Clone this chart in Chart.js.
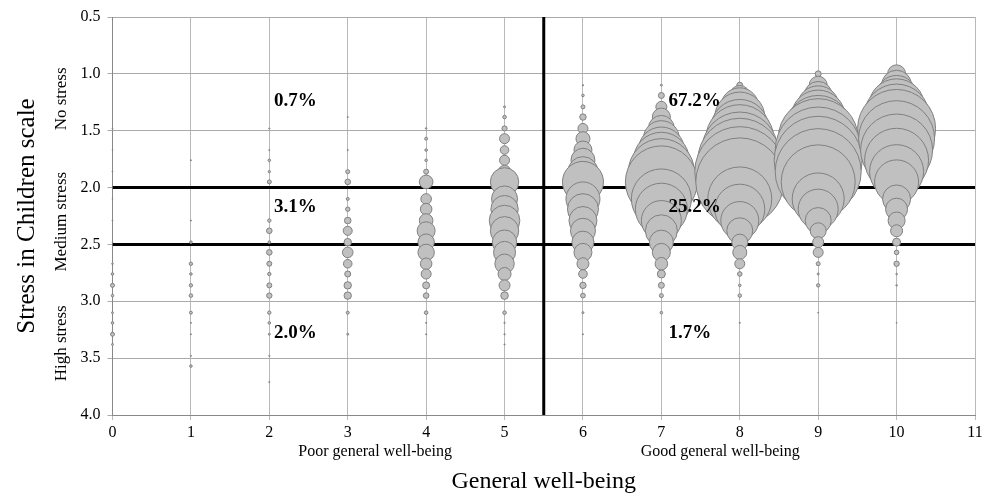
<!DOCTYPE html>
<html>
<head>
<meta charset="utf-8">
<script src="https://cdn.jsdelivr.net/npm/chart.js@4"></script>
<style>
  body { margin: 0; background: #fff; }
  #wrap { width: 994px; height: 499px; position: relative; }
</style>
</head>
<body>
<div id="wrap"><canvas id="myChart"></canvas></div>
<script>
// stress scale values (y) and well-being scores (x)
const stressLevels = [1.00, 1.10, 1.19, 1.29, 1.38, 1.48, 1.57, 1.67, 1.76, 1.86, 1.95,
    2.10, 2.19, 2.29, 2.38, 2.48, 2.57, 2.67, 2.76, 2.86, 2.95,
    3.10, 3.19, 3.29, 3.38, 3.48, 3.57, 3.71];
const wellBeing = [0, 1, 2, 3, 4, 5, 6, 7, 8, 9, 10];

// bubble size at each stress level, one list per well-being score
const wb0 = [0, 0, 0, 0, 0, 0.5, 0, 0.5, 0, 0.5, 0, 0.5, 0, 0.5, 0, 0.5, 0, 0.8, 1.3, 2, 1.3, 1, 1.3, 2, 1, 0, 0, 0];
const wb1 = [0, 0, 0, 0, 0, 0, 0, 0, 0.6, 0, 0, 0, 0, 0.6, 0, 1.3, 0, 1.7, 1.3, 1.7, 1.8, 1.5, 0.6, 0.6, 0, 0.6, 1.3, 0];
const wb2 = [0, 0, 0, 0, 0, 0.6, 0, 0.6, 1.3, 1.2, 2, 0, 0, 1.7, 2.8, 1.3, 2.8, 2.5, 1.7, 2.5, 2.7, 1.7, 1.3, 1, 0, 0.6, 0, 0.6];
const wb3 = [0, 0, 0, 0, 0.6, 0, 0, 0.6, 0, 2, 2.8, 1.5, 2.2, 3.3, 4.5, 3.7, 5.3, 4.3, 3, 3.7, 3.7, 1.5, 0, 1, 0, 0, 0, 0];
const wb4 = [0, 0, 0, 0, 0, 0.8, 1.5, 1.3, 1.3, 2.5, 6.8, 5.3, 5.8, 6.8, 9, 8.2, 8.2, 5.8, 5, 3.5, 2.8, 1.8, 0.6, 0.6, 0, 0, 0, 0];
const wb5 = [0, 0, 0, 1, 1.8, 2.6, 5, 4.3, 5, 6.3, 14.2, 13, 13.7, 15.3, 14.2, 12.2, 11, 9.7, 6.5, 5.5, 3.8, 1.8, 0.7, 0.7, 0.6, 0, 0, 0];
const wb6 = [0, 0.7, 1.3, 2, 3.2, 5, 7, 9, 12, 15, 20.5, 17, 15.5, 14, 12.5, 11, 9, 6, 4.3, 3.2, 2.4, 1, 0, 0.6, 0, 0, 0, 0];
const wb7 = [0, 1, 3, 5.5, 9, 13, 18, 23, 28, 33, 36, 30, 26, 20, 16, 12, 9, 6.3, 4, 3, 2, 1.3, 0, 0, 0, 0, 0, 0];
const wb8 = [0, 3, 10, 19, 25, 29, 34, 38, 42, 45, 44, 32, 25, 19, 13, 8, 7, 5, 2.3, 1.3, 1.8, 0, 0.6, 0, 0, 0, 0, 0];
const wb9 = [3, 9, 14, 21, 27, 33, 40, 43, 44, 43, 37, 26, 20, 13, 8, 5.5, 5, 2, 1, 1.7, 0, 0.5, 0, 0, 0, 0, 0, 0];
const wb10 = [9, 15, 20, 28, 33, 39, 38, 36, 32, 27, 22, 14, 11, 8.5, 6, 4, 2.3, 2.7, 0.8, 0.8, 0, 0, 0.5, 0, 0, 0, 0, 0];
const bubbleSizes = [wb0, wb1, wb2, wb3, wb4, wb5, wb6, wb7, wb8, wb9, wb10];

// cut-off lines
const stressCutoffs = [2.0, 2.5];
const wellBeingCutoff = 5.5;

// texts
const shares = ['0.7%', '3.1%', '2.0%', '67.2%', '25.2%', '1.7%'];
const groupLabels = ['Poor general well-being', 'Good general well-being'];
const stressBands = ['No stress', 'Medium stress', 'High stress'];

const SERIF = '"Liberation Serif", "Times New Roman", serif';
Chart.defaults.font.family = SERIF;
Chart.defaults.color = '#000';

const datasets = [];

bubbleSizes.forEach(function (sizes, i) {
    const points = [];
    sizes.forEach(function (r, j) {
        if (r > 0) points.push({ x: wellBeing[i], y: stressLevels[j], r: r });
    });
    datasets.push({
        type: 'bubble',
        data: points,
        backgroundColor: '#c0c0c0',
        borderColor: '#808080',
        borderWidth: 1,
        hoverRadius: 0,
        clip: false,
        order: 100 - i
    });
});

stressCutoffs.forEach(function (v) {
    datasets.push({
        type: 'line',
        data: [{ x: 0, y: v }, { x: 11, y: v }],
        borderColor: '#000',
        borderWidth: 3,
        pointRadius: 0,
        order: 200
    });
});
datasets.push({
    type: 'line',
    data: [{ x: wellBeingCutoff, y: 0.5 }, { x: wellBeingCutoff, y: 4.0 }],
    borderColor: '#000',
    borderWidth: 3,
    pointRadius: 0,
    order: 200
});

const textPlugin = {
    id: 'extraText',
    afterDatasetsDraw(chart) {
        const ctx = chart.ctx;
        const xs = chart.scales.x, ys = chart.scales.y;
        ctx.save();
        ctx.fillStyle = '#000';

        // percentages in each zone
        const spots = [[2.06, 1.24], [2.06, 2.175], [2.06, 3.28], [7.09, 1.24], [7.09, 2.175], [7.09, 3.28]];
        ctx.font = 'bold 19px ' + SERIF;
        ctx.textAlign = 'left';
        ctx.textBaseline = 'middle';
        shares.forEach(function (s, i) {
            ctx.fillText(s, xs.getPixelForValue(spots[i][0]), ys.getPixelForValue(spots[i][1]));
        });

        // well-being groups under the x ticks
        ctx.font = '16px ' + SERIF;
        ctx.textAlign = 'center';
        ctx.fillText(groupLabels[0], xs.getPixelForValue(3.35), xs.top + 37);
        ctx.fillText(groupLabels[1], xs.getPixelForValue(7.75), xs.top + 37);

        // stress bands beside the y ticks
        const bandY = [1.22, 2.30, 3.37];
        ctx.font = '17px ' + SERIF;
        stressBands.forEach(function (s, i) {
            ctx.save();
            ctx.translate(62, ys.getPixelForValue(bandY[i]));
            ctx.rotate(-Math.PI / 2);
            ctx.fillText(s, 0, 0);
            ctx.restore();
        });
        ctx.restore();
    }
};

var ctx = document.getElementById('myChart').getContext('2d');

var myChart = new Chart(ctx, {
    type: 'bubble',
    data: { datasets: datasets },
    plugins: [textPlugin],
    options: {
        responsive: true,
        maintainAspectRatio: false,
        animation: false,
        events: [],
        layout: { autoPadding: false, padding: { top: 17, right: 19, bottom: 0, left: 0 } },
        plugins: {
            legend: { display: false },
            tooltip: { enabled: false }
        },
        scales: {
            x: {
                type: 'linear',
                min: 0,
                max: 11,
                afterFit: function (scale) { scale.height = 84; },
                ticks: { stepSize: 1, padding: 3, font: { size: 16 } },
                grid: { color: '#b9b9b9', tickLength: 5 },
                border: { color: '#888' },
                title: {
                    display: true,
                    text: 'General well-being',
                    font: { size: 24 },
                    padding: { top: 0, bottom: 3 }
                }
            },
            y: {
                type: 'linear',
                reverse: true,
                min: 0.5,
                max: 4.0,
                afterFit: function (scale) { scale.width = 112.5; },
                ticks: {
                    stepSize: 0.5,
                    padding: 7,
                    font: { size: 16 },
                    callback: function (v) { return v.toFixed(1); }
                },
                grid: { color: '#aaaaaa', tickLength: 5 },
                border: { color: '#888' },
                title: {
                    display: true,
                    text: 'Stress in Children scale',
                    font: { size: 25 },
                    padding: { top: 12, bottom: 0 }
                }
            }
        }
    }
});
</script>
</body>
</html>
